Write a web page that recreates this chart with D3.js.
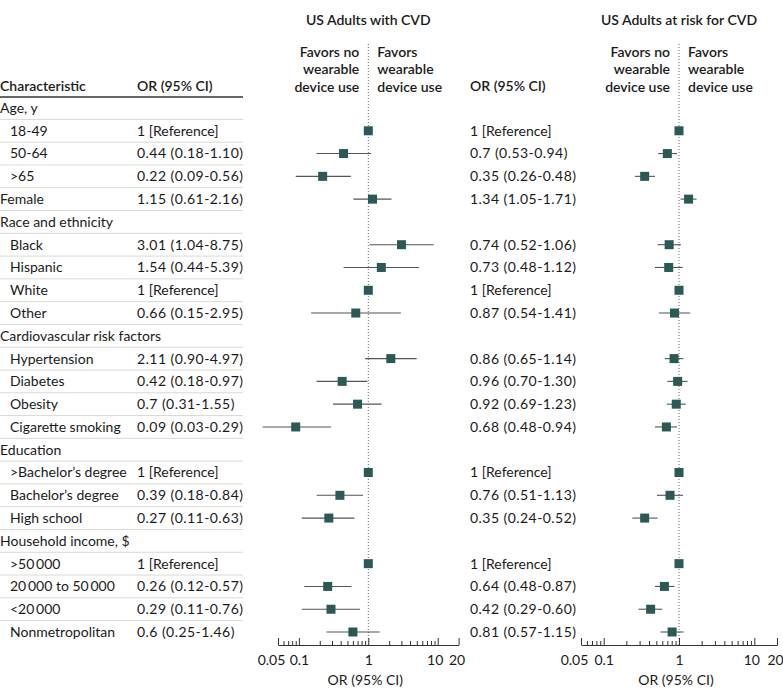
<!DOCTYPE html>
<html><head><meta charset="utf-8">
<script src="https://cdn.jsdelivr.net/npm/d3@7"></script>
<style>
html,body{margin:0;padding:0;background:#fff;}
svg text{font-family:Lato,Roboto,"Noto Sans",sans-serif;fill:#1a1a1a;}
</style></head>
<body><svg id="c" width="783" height="696"></svg>
<script>
// ---- data ----
const characteristics = ["Age, y","18-49","50-64",">65","Female","Race and ethnicity","Black","Hispanic","White","Other",
  "Cardiovascular risk factors","Hypertension","Diabetes","Obesity","Cigarette smoking","Education",
  ">Bachelor\u2019s degree","Bachelor\u2019s degree","High school","Household income, $",">50\u2009000",
  "20\u2009000 to 50\u2009000","<20\u2009000","Nonmetropolitan"];
// "group" = section heading, "item" = indented sub-row, "single" = unindented row with data
const rowKind = ["group","item","item","item","single","group","item","item","item","item",
  "group","item","item","item","item","group","item","item","item","group","item","item","item","item"];
// "ref" marks reference category
const cvdOR = [null,"ref",0.44,0.22,1.15,null,3.01,1.54,"ref",0.66,null,2.11,0.42,0.7,0.09,null,"ref",0.39,0.27,null,"ref",0.26,0.29,0.6];
const cvdLo = [null,null,0.18,0.09,0.61,null,1.04,0.44,null,0.15,null,0.90,0.18,0.31,0.03,null,null,0.18,0.11,null,null,0.12,0.11,0.25];
const cvdHi = [null,null,1.10,0.56,2.16,null,8.75,5.39,null,2.95,null,4.97,0.97,1.55,0.29,null,null,0.84,0.63,null,null,0.57,0.76,1.46];
const riskOR = [null,"ref",0.7,0.35,1.34,null,0.74,0.73,"ref",0.87,null,0.86,0.96,0.92,0.68,null,"ref",0.76,0.35,null,"ref",0.64,0.42,0.81];
const riskLo = [null,null,0.53,0.26,1.05,null,0.52,0.48,null,0.54,null,0.65,0.70,0.69,0.48,null,null,0.51,0.24,null,null,0.48,0.29,0.57];
const riskHi = [null,null,0.94,0.48,1.71,null,1.06,1.12,null,1.41,null,1.14,1.30,1.23,0.94,null,null,1.13,0.52,null,null,0.87,0.60,1.15];
const majorTicks = [0.05,0.1,1,10,20];
const tickLabels = ["0.05","0.1","1","10","20"];
const minorTicks = [0.06,0.07,0.08,0.09,0.2,0.3,0.4,0.5,0.6,0.7,0.8,0.9,2,3,4,5,6,7,8,9];
const panelTitles = ["US Adults with CVD","US Adults at risk for CVD"];
const favorsLeft = ["Favors no","wearable","device use"];
const favorsRight = ["Favors","wearable","device use"];

// ---- drawing ----
const svg = d3.select("#c");
const FS = 14;
const NUM_LS = 0.45;
const n = characteristics.length;
const y = d3.scalePoint().domain(d3.range(n)).range([108, 632]);
const step = y.step();
const fmtCI = (o,l,h) => o === "ref" ? "1 [Reference]" : (o == null ? "" : `${o} (${l.toFixed(2)}-${h.toFixed(2)})`);
const sqColor = "#2b5956";
const ciColor = "#555";
const HW = 600;

// table separators
const tbl = svg.append("g");
tbl.append("line").attr("x1",0).attr("x2",243).attr("y1",97).attr("y2",97).attr("stroke","#333").attr("stroke-width",1.5);
for (let i=0;i<n-1;i++){
  tbl.append("line").attr("x1",0).attr("x2",243).attr("y1",y(i)+step/2).attr("y2",y(i)+step/2)
    .attr("stroke","#d9d9d2").attr("stroke-width",1);
}
// headers
tbl.append("text").attr("x",0).attr("y",86).attr("dy","0.35em").attr("font-size",FS).attr("font-weight",HW).text("Characteristic");
tbl.append("text").attr("x",137).attr("y",86).attr("dy","0.35em").attr("font-size",FS).attr("font-weight",HW).text("OR (95% CI)");
tbl.append("text").attr("x",470).attr("y",86).attr("dy","0.35em").attr("font-size",FS).attr("font-weight",HW).text("OR (95% CI)");

tbl.selectAll("text.lab").data(characteristics).join("text").attr("class","lab")
  .attr("x",(d,i)=> rowKind[i]==="item" ? 10 : 0).attr("y",(d,i)=>y(i)).attr("dy","0.35em")
  .attr("font-size",FS)
  .text(d=>d);
tbl.selectAll("text.or1").data(cvdOR).join("text").attr("class","or1")
  .attr("x",137).attr("y",(d,i)=>y(i)).attr("dy","0.35em").attr("font-size",FS)
  .attr("letter-spacing",d=> d==="ref" ? 0 : NUM_LS)
  .text((d,i)=>fmtCI(d,cvdLo[i],cvdHi[i]));
tbl.selectAll("text.or2").data(riskOR).join("text").attr("class","or2")
  .attr("x",470).attr("y",(d,i)=>y(i)).attr("dy","0.35em").attr("font-size",FS)
  .attr("letter-spacing",d=> d==="ref" ? 0 : NUM_LS)
  .text((d,i)=>fmtCI(d,riskLo[i],riskHi[i]));

function panel(range, OR, LO, HI, title){
  const x = d3.scaleLog().domain([0.05,20]).range(range);
  const g = svg.append("g");
  const x1 = x(1);
  const axisY = 645;
  g.append("text").attr("x",x1).attr("y",20).attr("dy","0.35em").attr("text-anchor","middle")
    .attr("font-size",FS).attr("font-weight",HW).text(title);
  favorsLeft.forEach((t,k)=> g.append("text").attr("x",x1-9).attr("y",52+k*17.3).attr("dy","0.35em")
    .attr("text-anchor","end").attr("font-size",FS).attr("font-weight",HW).text(t));
  favorsRight.forEach((t,k)=> g.append("text").attr("x",x1+9).attr("y",52+k*17.3).attr("dy","0.35em")
    .attr("text-anchor","start").attr("font-size",FS).attr("font-weight",HW).text(t));
  g.append("line").attr("x1",x1).attr("x2",x1).attr("y1",44).attr("y2",axisY)
    .attr("stroke","#666").attr("stroke-width",1).attr("stroke-dasharray","1,2");
  // CIs
  OR.forEach((o,i)=>{
    if (o==null) return;
    if (o!=="ref"){
      g.append("line").attr("x1",x(LO[i])).attr("x2",x(HI[i])).attr("y1",y(i)).attr("y2",y(i))
        .attr("stroke",ciColor).attr("stroke-width",1.1);
    }
    const v = o==="ref" ? 1 : o;
    g.append("rect").attr("x",x(v)-4.5).attr("y",y(i)-4.5).attr("width",9).attr("height",9).attr("fill",sqColor);
  });
  // axis
  const ax = g.append("g").attr("transform",`translate(0,${axisY})`);
  ax.call(d3.axisBottom(x).tickValues(majorTicks).tickFormat((d,i)=>tickLabels[i]).tickSize(-7).tickSizeOuter(0).tickPadding(10));
  ax.selectAll(".tick text").attr("font-size",FS).attr("font-family","Lato,Roboto,sans-serif").attr("fill","#1a1a1a")
    .attr("dx",d=> d===0.05 ? -7 : (d===20 ? -2 : (d===10 ? -3 : 0)));
  ax.select(".domain").attr("stroke","#333");
  ax.selectAll(".tick line").attr("stroke","#333");
  const mi = g.append("g").attr("transform",`translate(0,${axisY})`);
  mi.call(d3.axisBottom(x).tickValues(minorTicks).tickFormat("").tickSize(-4).tickSizeOuter(0));
  mi.select(".domain").remove();
  mi.selectAll(".tick line").attr("stroke","#333");
  g.append("text").attr("x",x1-3).attr("y",680).attr("dy","0.35em").attr("text-anchor","middle")
    .attr("font-size",FS).text("OR (95% CI)");
}
panel([278,458.6], cvdOR, cvdLo, cvdHi, panelTitles[0]);
panel([581,777], riskOR, riskLo, riskHi, panelTitles[1]);
</script></body></html>
